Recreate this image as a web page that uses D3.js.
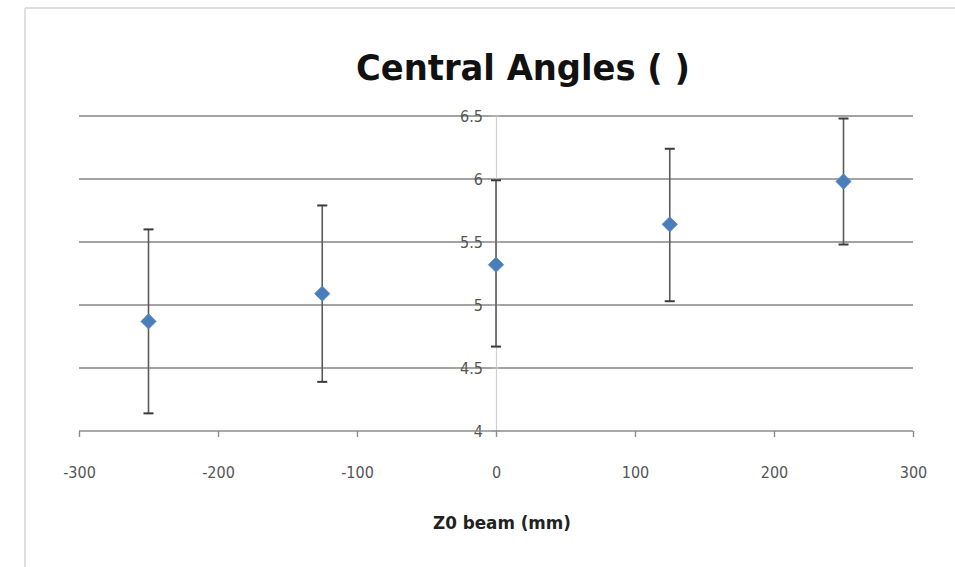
<!DOCTYPE html>
<html>
<head>
<meta charset="utf-8">
<script src="https://cdn.jsdelivr.net/npm/d3@7"></script>
<style>
  html, body { margin: 0; padding: 0; background: #fff; }
  svg { display: block; }
</style>
</head>
<body>
<svg id="chart" width="955" height="567"></svg>
<script>
// ---- data ----
const zPositions = [-250, -125, 0, 125, 250];
const angleValues = [4.87, 5.09, 5.32, 5.64, 5.98];
const errorPlus = [0.73, 0.70, 0.67, 0.60, 0.50];
const errorMinus = [0.73, 0.70, 0.65, 0.61, 0.50];
const xTicks = [-300, -200, -100, 0, 100, 200, 300];
const yTicks = [4, 4.5, 5, 5.5, 6, 6.5];
const chartTitle = "Central Angles ( )";
const xTitle = "Z0 beam (mm)";

const FONT = "'Liberation Sans Narrow', 'DejaVu Sans Condensed', 'Liberation Sans', sans-serif";
const svg = d3.select("#chart");
const W = 955, H = 567;
const plot = { left: 79, right: 913, top: 116, bottom: 431 };

const x = d3.scaleLinear().domain([-300, 300]).range([plot.left, plot.right]);
const y = d3.scaleLinear().domain([4, 6.5]).range([plot.bottom, plot.top]);

// frame
svg.append("line").attr("x1", 25).attr("x2", 25).attr("y1", 8).attr("y2", H)
  .attr("stroke", "#d4d4d4").attr("stroke-width", 1.5);
svg.append("line").attr("x1", 25).attr("x2", W).attr("y1", 8).attr("y2", 8)
  .attr("stroke", "#d4d4d4").attr("stroke-width", 1.5);

// title
svg.append("text")
  .attr("x", 523).attr("y", 80)
  .attr("text-anchor", "middle")
  .attr("font-family", FONT)
  .attr("font-weight", "bold")
  .attr("font-size", 36)
  .attr("fill", "#111")
  .attr("textLength", 334)
  .attr("lengthAdjust", "spacingAndGlyphs")
  .text(chartTitle);

// horizontal gridlines
svg.append("g").selectAll("line")
  .data(yTicks.filter(d => d !== 4))
  .join("line")
  .attr("x1", plot.left).attr("x2", plot.right)
  .attr("y1", d => y(d)).attr("y2", d => y(d))
  .attr("stroke", "#a3a3a3").attr("stroke-width", 1.8);

// y axis (at x = 0)
const yAxis = d3.axisLeft(y).tickValues(yTicks).tickSize(0)
  .tickFormat(d => String(d)).tickPadding(13);
const gy = svg.append("g").attr("transform", `translate(${x(0)},0)`).call(yAxis);
gy.select(".domain").attr("stroke", "#d0d0d0").attr("stroke-width", 1.2);
gy.selectAll(".tick text")
  .attr("font-family", FONT)
  .attr("font-size", 16)
  .attr("fill", "#555");
// small cross ticks on y axis
svg.append("g").selectAll("line").data(yTicks).join("line")
  .attr("x1", x(0) - 4).attr("x2", x(0) + 4)
  .attr("y1", d => y(d)).attr("y2", d => y(d))
  .attr("stroke", "#bdbdbd").attr("stroke-width", 1);

// x axis (at y = 4)
const xAxis = d3.axisBottom(x).tickValues(xTicks).tickSize(6)
  .tickFormat(d => String(d)).tickPadding(30);
const gx = svg.append("g").attr("transform", `translate(0,${y(4)})`).call(xAxis);
gx.select(".domain").attr("stroke", "#8c8c8c").attr("stroke-width", 1.6)
  .attr("d", `M${plot.left},0H${plot.right}`);
gx.selectAll(".tick line").attr("stroke", "#8c8c8c").attr("stroke-width", 1.4);
gx.selectAll(".tick text")
  .attr("font-family", FONT)
  .attr("font-size", 16)
  .attr("fill", "#555");

// x axis title
svg.append("text")
  .attr("x", 502).attr("y", 529)
  .attr("text-anchor", "middle")
  .attr("font-family", FONT)
  .attr("font-weight", "bold")
  .attr("font-size", 17)
  .attr("fill", "#222")
  .attr("textLength", 138)
  .attr("lengthAdjust", "spacingAndGlyphs")
  .text(xTitle);

// error bars
const points = zPositions.map((z, i) => ({
  z, v: angleValues[i], hi: angleValues[i] + errorPlus[i], lo: angleValues[i] - errorMinus[i]
}));
const eb = svg.append("g");
eb.selectAll("line.stem").data(points).join("line").attr("class", "stem")
  .attr("x1", d => x(d.z)).attr("x2", d => x(d.z))
  .attr("y1", d => y(d.hi)).attr("y2", d => y(d.lo))
  .attr("stroke", "#5a5a5a").attr("stroke-width", 1.6);
eb.selectAll("line.capt").data(points).join("line").attr("class", "capt")
  .attr("x1", d => x(d.z) - 5).attr("x2", d => x(d.z) + 5)
  .attr("y1", d => y(d.hi)).attr("y2", d => y(d.hi))
  .attr("stroke", "#3a3a3a").attr("stroke-width", 2);
eb.selectAll("line.capb").data(points).join("line").attr("class", "capb")
  .attr("x1", d => x(d.z) - 5).attr("x2", d => x(d.z) + 5)
  .attr("y1", d => y(d.lo)).attr("y2", d => y(d.lo))
  .attr("stroke", "#3a3a3a").attr("stroke-width", 2);

// diamond markers
const diamond = d3.symbol().type(d3.symbolDiamond2).size(150);
svg.append("g").selectAll("path").data(points).join("path")
  .attr("transform", d => `translate(${x(d.z)},${y(d.v)})`)
  .attr("d", diamond)
  .attr("fill", "#4a7ebb")
  .attr("stroke", "#5b8cc9").attr("stroke-width", 0.8);
</script>
</body>
</html>
